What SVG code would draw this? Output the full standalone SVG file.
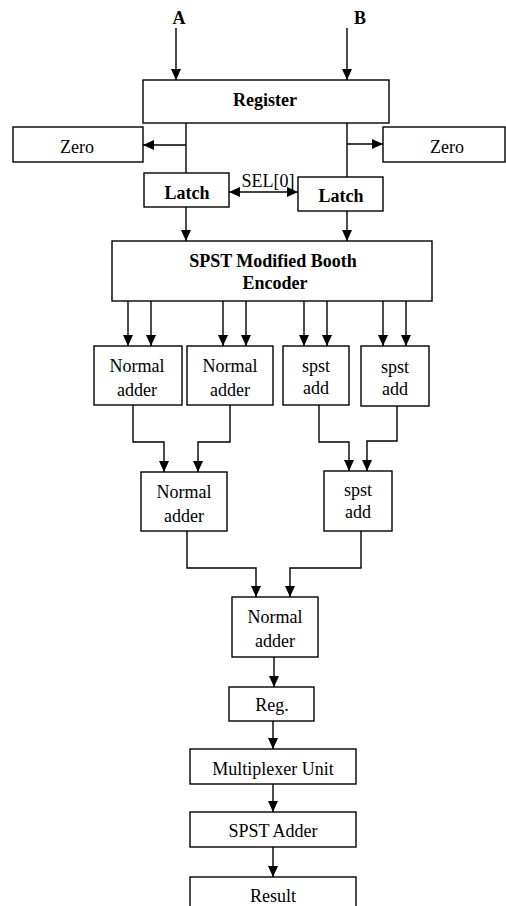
<svg xmlns="http://www.w3.org/2000/svg" width="506" height="906" viewBox="0 0 506 906">
<style>
.box{fill:#fff;stroke:#000;stroke-width:1.4}
.t{font-family:"Liberation Serif","Times New Roman",serif;font-size:18px;fill:#000;text-anchor:middle}
.b{font-weight:bold}
.c{fill:none;stroke:#000;stroke-width:1.4}
</style>
<defs>
<marker id="ah" markerUnits="userSpaceOnUse" markerWidth="11" markerHeight="11" refX="11" refY="5" orient="auto">
<path d="M0,0 L11,5 L0,10 z" fill="#000"/>
</marker>
<marker id="ahs" markerUnits="userSpaceOnUse" markerWidth="11" markerHeight="11" refX="0" refY="5" orient="auto">
<path d="M11,0 L0,5 L11,10 z" fill="#000"/>
</marker>
</defs>
<rect width="506" height="906" fill="#fff"/>
<g id="connectors">
<line class="c" x1="176" y1="28" x2="176" y2="80" marker-end="url(#ah)"/>
<line class="c" x1="347" y1="28" x2="347" y2="80" marker-end="url(#ah)"/>
<line class="c" x1="186" y1="123" x2="186" y2="173"/>
<line class="c" x1="186" y1="145" x2="143" y2="145" marker-end="url(#ah)"/>
<line class="c" x1="347" y1="123" x2="347" y2="177"/>
<line class="c" x1="347" y1="144" x2="383" y2="144" marker-end="url(#ah)"/>
<line class="c" x1="229" y1="192" x2="298" y2="192" marker-start="url(#ahs)" marker-end="url(#ah)"/>
<line class="c" x1="186" y1="207" x2="186" y2="241" marker-end="url(#ah)"/>
<line class="c" x1="347" y1="211" x2="347" y2="241" marker-end="url(#ah)"/>
<line class="c" x1="128" y1="301" x2="128" y2="346" marker-end="url(#ah)"/>
<line class="c" x1="151" y1="301" x2="151" y2="346" marker-end="url(#ah)"/>
<line class="c" x1="223" y1="301" x2="223" y2="346" marker-end="url(#ah)"/>
<line class="c" x1="246" y1="301" x2="246" y2="346" marker-end="url(#ah)"/>
<line class="c" x1="304" y1="301" x2="304" y2="346" marker-end="url(#ah)"/>
<line class="c" x1="327" y1="301" x2="327" y2="346" marker-end="url(#ah)"/>
<line class="c" x1="383" y1="301" x2="383" y2="346" marker-end="url(#ah)"/>
<line class="c" x1="406" y1="301" x2="406" y2="346" marker-end="url(#ah)"/>
<polyline class="c" points="133,405 133,442 164,442 164,472" marker-end="url(#ah)"/>
<polyline class="c" points="230,405 230,442 198,442 198,472" marker-end="url(#ah)"/>
<polyline class="c" points="319,405 319,442 349,442 349,471" marker-end="url(#ah)"/>
<polyline class="c" points="397,406 397,441 367,441 367,471" marker-end="url(#ah)"/>
<polyline class="c" points="187,531 187,568 256,568 256,597" marker-end="url(#ah)"/>
<polyline class="c" points="361,531 361,568 290,568 290,597" marker-end="url(#ah)"/>
<line class="c" x1="274" y1="657" x2="274" y2="687" marker-end="url(#ah)"/>
<line class="c" x1="273" y1="721" x2="273" y2="749" marker-end="url(#ah)"/>
<line class="c" x1="273" y1="784" x2="273" y2="812" marker-end="url(#ah)"/>
<line class="c" x1="273" y1="847" x2="273" y2="877" marker-end="url(#ah)"/>
</g>
<g id="label-A"><text class="t b" x="179" y="24">A</text></g>
<g id="label-B"><text class="t b" x="360" y="24">B</text></g>
<g id="register"><rect class="box" x="143" y="80" width="246" height="43"/><text class="t b" x="265" y="106">Register</text></g>
<g id="zero-left"><rect class="box" x="13" y="127" width="130" height="35"/><text class="t" x="77" y="153">Zero</text></g>
<g id="zero-right"><rect class="box" x="383" y="127" width="122" height="35"/><text class="t" x="447" y="153">Zero</text></g>
<g id="latch-left"><rect class="box" x="144" y="173" width="85" height="34"/><text class="t b" x="187" y="199">Latch</text></g>
<g id="latch-right"><rect class="box" x="298" y="177" width="85" height="34"/><text class="t b" x="341" y="202">Latch</text></g>
<g id="sel"><text class="t" x="268" y="187">SEL[0]</text></g>
<g id="encoder"><rect class="box" x="112" y="241" width="320" height="60"/><text class="t b" x="273" y="267">SPST Modified Booth</text><text class="t b" x="275" y="289">Encoder</text></g>
<g id="na1"><rect class="box" x="94" y="346" width="88" height="59"/><text class="t" x="137" y="372">Normal</text><text class="t" x="137" y="396">adder</text></g>
<g id="na2"><rect class="box" x="187" y="346" width="86" height="59"/><text class="t" x="230" y="372">Normal</text><text class="t" x="230" y="396">adder</text></g>
<g id="sa1"><rect class="box" x="283" y="346" width="66" height="59"/><text class="t" x="316" y="372">spst</text><text class="t" x="316" y="394">add</text></g>
<g id="sa2"><rect class="box" x="361" y="346" width="68" height="60"/><text class="t" x="395" y="373">spst</text><text class="t" x="395" y="395">add</text></g>
<g id="na3"><rect class="box" x="141" y="472" width="86" height="59"/><text class="t" x="184" y="498">Normal</text><text class="t" x="184" y="522">adder</text></g>
<g id="sa3"><rect class="box" x="324" y="471" width="68" height="60"/><text class="t" x="358" y="496">spst</text><text class="t" x="358" y="518">add</text></g>
<g id="na4"><rect class="box" x="232" y="597" width="86" height="60"/><text class="t" x="275" y="623">Normal</text><text class="t" x="275" y="647">adder</text></g>
<g id="reg"><rect class="box" x="229" y="687" width="85" height="34"/><text class="t" x="272" y="711">Reg.</text></g>
<g id="mux"><rect class="box" x="190" y="749" width="166" height="35"/><text class="t" x="273" y="775">Multiplexer Unit</text></g>
<g id="spst-adder"><rect class="box" x="190" y="812" width="166" height="35"/><text class="t" x="273" y="837">SPST Adder</text></g>
<g id="result"><rect class="box" x="190" y="877" width="166" height="40"/><text class="t" x="273" y="902">Result</text></g>
</svg>
